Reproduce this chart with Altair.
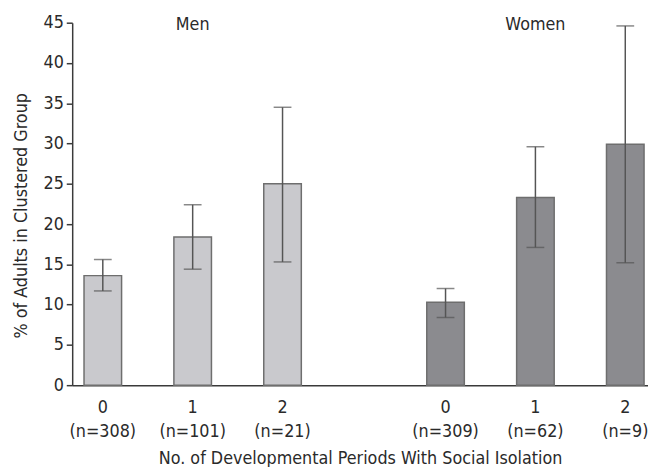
import altair as alt
import pandas as pd

group_names = ["Men", "Women"]
groups = ["Men", "Men", "Men", "Women", "Women", "Women"]
levels = ["0", "1", "2", "0", "1", "2"]
ns = [308, 101, 21, 309, 62, 9]
pct = [13.6, 18.4, 25.0, 10.3, 23.3, 29.9]
lo = [11.7, 14.4, 15.3, 8.4, 17.1, 15.2]
hi = [15.6, 22.4, 34.5, 12.0, 29.6, 44.6]
y_ticks = [0, 5, 10, 15, 20, 25, 30, 35, 40, 45]

df = pd.DataFrame({
    "group": groups, "level": levels, "n": ns,
    "pct": pct, "lo": lo, "hi": hi,
})
df["label"] = [f"{l}\n(n={n})" for l, n in zip(levels, ns)]
gdf = pd.DataFrame({"group": group_names})

FONT = "Liberation Sans Narrow, DejaVu Sans Condensed, sans-serif"
W, H = 583, 367

xenc = alt.X("group:N",
             scale=alt.Scale(domain=group_names, paddingInner=0.366,
                             paddingOuter=0.023, align=0.75),
             axis=alt.Axis(labels=False, ticks=False, domain=True,
                           domainColor="#3a3a3a", domainWidth=1.5,
                           title="No. of Developmental Periods With Social Isolation",
                           titleFont=FONT, titleFontSize=18, titleFontWeight="normal",
                           titleColor="#2a2a2a", titleY=79, titleBaseline="alphabetic"))
xoff = alt.XOffset("level:N", scale=alt.Scale(paddingInner=0.582, paddingOuter=0))

base = alt.Chart(df)

bars = base.mark_bar(stroke="#6e6e6e", strokeWidth=1.5).encode(
    x=xenc, xOffset=xoff,
    y=alt.Y("pct:Q", scale=alt.Scale(domain=[0, 45], nice=False),
            axis=alt.Axis(values=y_ticks, grid=False, tickSize=6, tickWidth=1.5,
                          tickColor="#3a3a3a", domainColor="#3a3a3a", domainWidth=1.5,
                          labelFont=FONT, labelFontSize=18, labelColor="#2a2a2a",
                          labelPadding=3,
                          title="% of Adults in Clustered Group",
                          titleFont=FONT, titleFontSize=18, titleFontWeight="normal",
                          titleColor="#2a2a2a", titleX=-46, titleY=195,
                          titleBaseline="alphabetic", titleAlign="center")),
    color=alt.Color("group:N", scale=alt.Scale(domain=group_names,
                                               range=["#c9c9cd", "#8b8b8f"]),
                    legend=None),
)

rules = base.mark_rule(color="#555555", strokeWidth=1.5).encode(
    x="group:N", xOffset=xoff, y="lo:Q", y2="hi:Q")
cap_lo = base.mark_tick(color="#555555", thickness=1.5, size=18).encode(
    x="group:N", xOffset=xoff, y="lo:Q")
cap_hi = base.mark_tick(color="#555555", thickness=1.5, size=18).encode(
    x="group:N", xOffset=xoff, y="hi:Q")

xlabels = base.mark_text(font=FONT, fontSize=18, color="#2a2a2a", lineBreak="\n",
                         lineHeight=24, baseline="alphabetic").encode(
    x="group:N", xOffset=xoff, y=alt.value(H + 28), text="label:N")

gtitles = alt.Chart(gdf).mark_text(font=FONT, fontSize=18, color="#2a2a2a",
                                   baseline="alphabetic").encode(
    x="group:N", y=alt.value(7), text="group:N")

chart = alt.layer(bars, rules, cap_lo, cap_hi, xlabels, gtitles).properties(
    width=W, height=H,
    autosize=alt.AutoSizeParams(type="none"),
    padding={"left": 65, "top": 12, "right": 0, "bottom": 83},
).configure_view(stroke=None).configure_axis(labelFont=FONT, titleFont=FONT)

chart.save("out.html", embed_options={"renderer": "svg", "actions": False})
